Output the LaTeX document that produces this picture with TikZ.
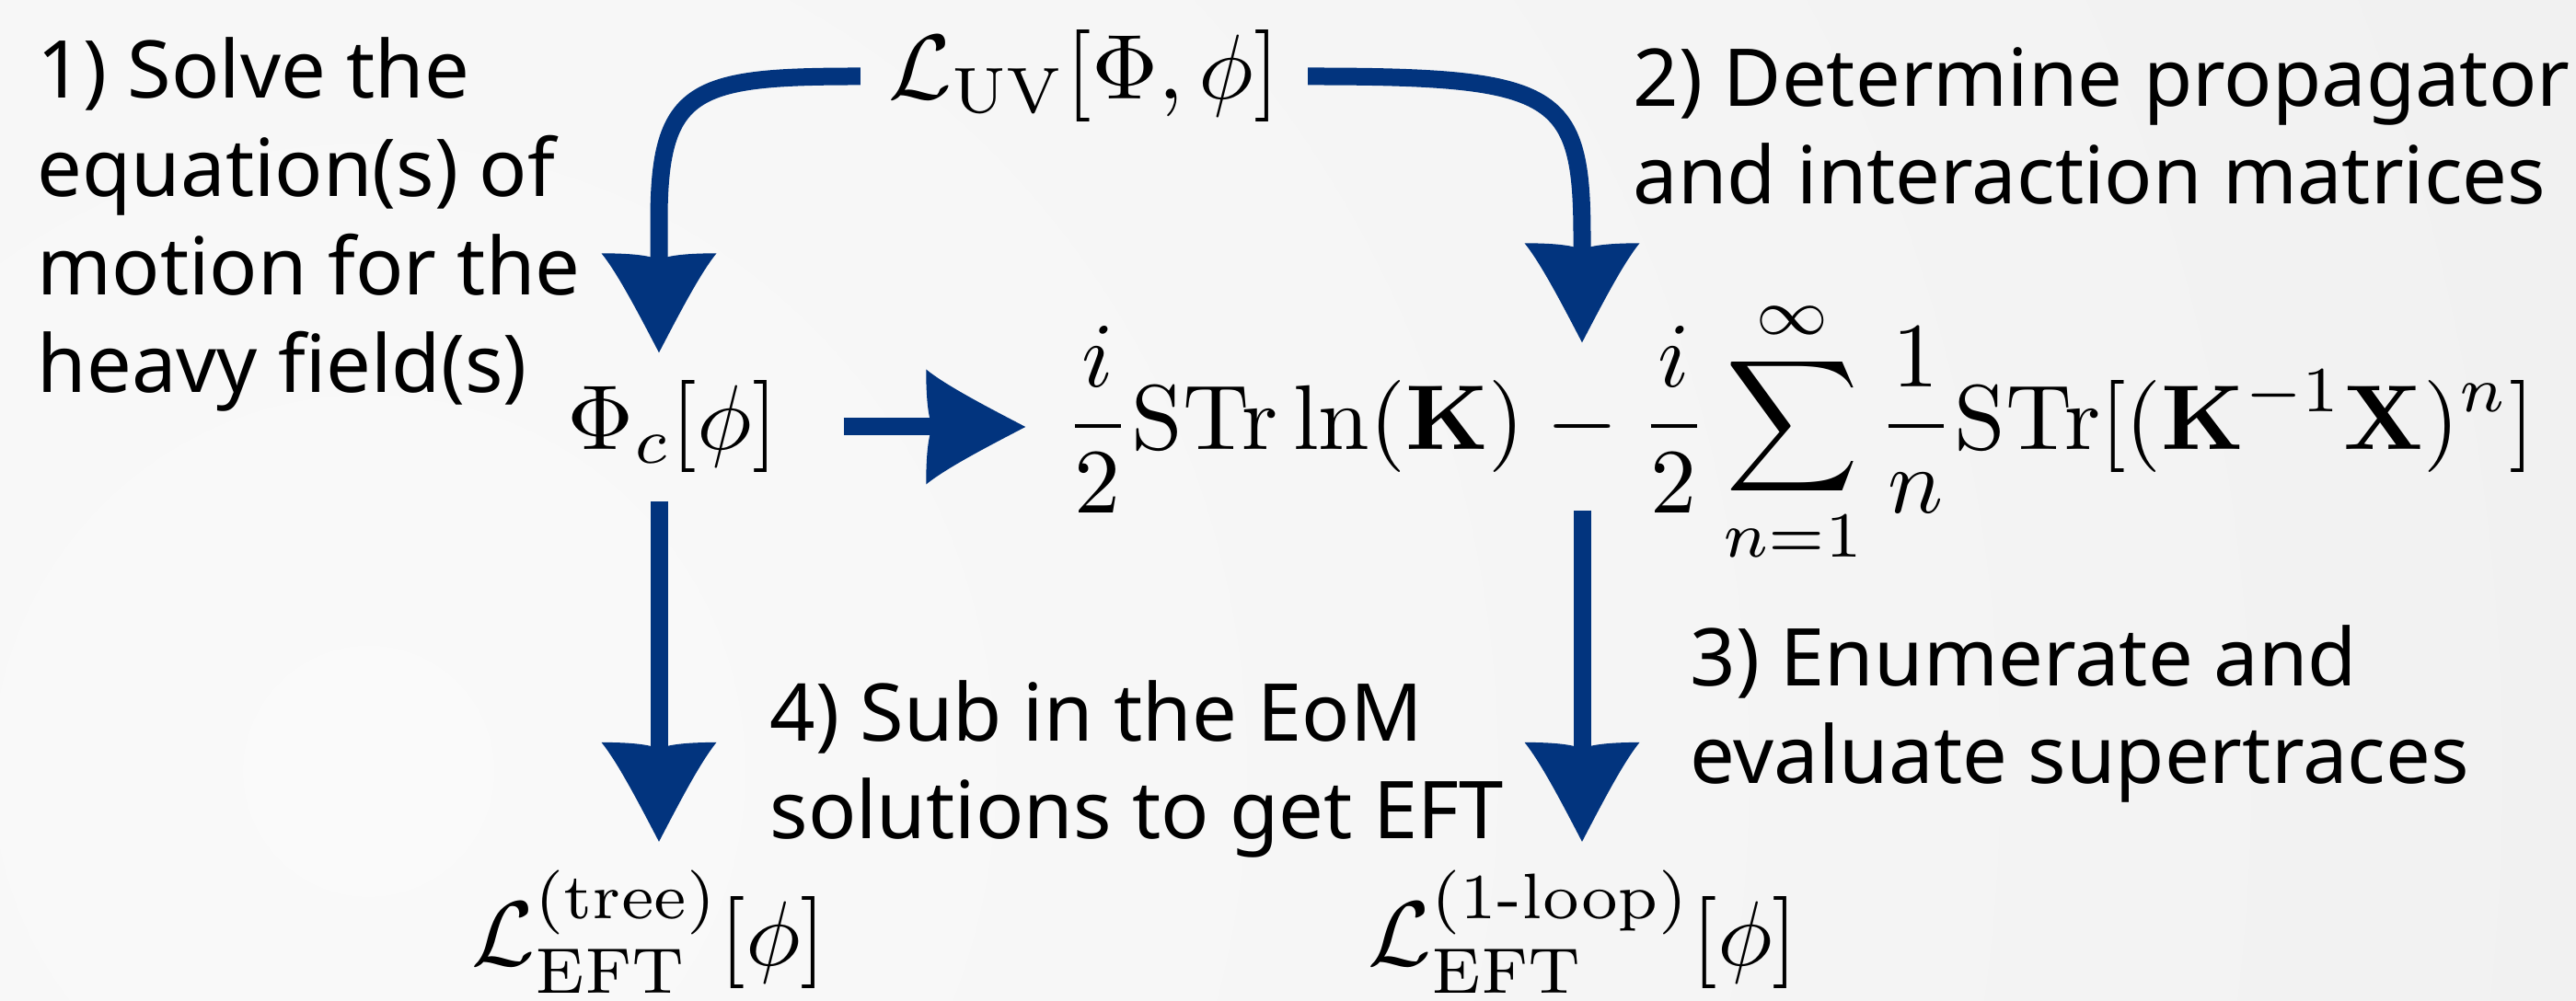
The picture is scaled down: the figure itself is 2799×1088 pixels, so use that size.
\documentclass[tikz,border=0pt]{standalone}
\usepackage{amsmath}
\usepackage{amssymb}
\usepackage{graphicx}
\usepackage[no-math]{fontspec}
\usepackage{tikz}
\usepackage{xcolor}
\usetikzlibrary{arrows.meta}

\newfontfamily\stepfont{Noto Sans}
\definecolor{eftblue}{RGB}{2,52,126}
\definecolor{bgin}{RGB}{250,250,250}
\definecolor{bgout}{RGB}{228,228,228}

% math set at 10pt and blown up
\newcommand{\bigmath}[1]{\scalebox{3}{$\displaystyle #1$}}

% swept arrow head
\pgfdeclarearrow{
  name = Swoop,
  parameters = {\the\pgfarrowlength,\the\pgfarrowwidth},
  setup code = {
    \pgfarrowssettipend{0pt}
    \pgfarrowssetlineend{-0.85\pgfarrowlength}
    \pgfarrowssetbackend{-\pgfarrowlength}
    \pgfarrowssavethe\pgfarrowlength
    \pgfarrowssavethe\pgfarrowwidth
  },
  drawing code = {
    \pgfpathmoveto{\pgfpointorigin}
    \pgfpathcurveto{\pgfpoint{-0.4\pgfarrowlength}{0.18\pgfarrowwidth}}{\pgfpoint{-0.8\pgfarrowlength}{0.36\pgfarrowwidth}}{\pgfpoint{-\pgfarrowlength}{0.5\pgfarrowwidth}}
    \pgfpathcurveto{\pgfpoint{-\pgfarrowlength}{0.2\pgfarrowwidth}}{\pgfpoint{-0.97\pgfarrowlength}{0.05\pgfarrowwidth}}{\pgfpoint{-0.93\pgfarrowlength}{0pt}}
    \pgfpathcurveto{\pgfpoint{-0.97\pgfarrowlength}{-0.05\pgfarrowwidth}}{\pgfpoint{-\pgfarrowlength}{-0.2\pgfarrowwidth}}{\pgfpoint{-\pgfarrowlength}{-0.5\pgfarrowwidth}}
    \pgfpathcurveto{\pgfpoint{-0.8\pgfarrowlength}{-0.36\pgfarrowwidth}}{\pgfpoint{-0.4\pgfarrowlength}{-0.18\pgfarrowwidth}}{\pgfpointorigin}
    \pgfpathclose
    \pgfusepathqfill
  },
  defaults = {length=32pt, width=37pt}
}

\begin{document}
\begin{tikzpicture}[x=0.3pt, y=0.3pt,
    flow/.style={color=eftblue, line width=5.7pt, -{Swoop[length=32.4pt,width=37.5pt]}},
    formula/.style={inner sep=9pt, font=\fontsize{10}{12}\selectfont},
    chunk/.style={inner sep=0pt, font=\fontsize{10}{12}\selectfont},
    steptext/.style={inner sep=0pt, align=left, font=\stepfont\fontsize{26}{32}\selectfont}]
	% Background
	\useasboundingbox (0,0) rectangle (2799,1088);
	\begin{scope}
		\clip (0,0) rectangle (2799,1088);
		\shade[inner color=bgin, outer color=bgout] (400,250) circle (6000);
	\end{scope}
	
	% UV theory and classical solution
	\node[formula, anchor=base] (uv) at (1178,980) {\bigmath{\mathcal{L}_{\mathrm{UV}}[\Phi,\phi]}};
	\node[formula, anchor=base] (phic) at (731,599) {\bigmath{\Phi_c[\phi]}};
	
	% Supertraces
	\node[chunk, minimum height=54.3pt] (minus) at (1719,624.5) {\bigmath{-}};
	\node[chunk, anchor=base east] (logterm) at ([xshift=-6.7pt]minus.base west) {\bigmath{\frac{i}{2}\mathrm{STr}\ln(\mathbf{K})}};
	\node[chunk, anchor=base west] (sumterm) at ([xshift=6.7pt]minus.base east) {\bigmath{\frac{i}{2}\sum_{n=1}^{\infty}\frac{1}{n}\mathrm{STr}[(\mathbf{K}^{-1}\mathbf{X})^n]}};
	
	% EFT results
	\node[formula, anchor=base] (tree) at (705,38) {\bigmath{\mathcal{L}_{\mathrm{EFT}}^{(\mathrm{tree})}[\phi]}};
	\node[formula, anchor=base] (oneloop) at (1720,38) {\bigmath{\mathcal{L}_{\mathrm{EFT}}^{(\text{1-loop})}[\phi]}};
	
	% Steps
	\node[steptext, anchor=base west] (solve) at (40,661) {1) Solve the\\equation(s) of\\motion for the\\heavy field(s)};
	\node[steptext, anchor=base west] (propagate) at (1774,866) {2) Determine propagator\\and interaction matrices};
	\node[steptext, anchor=base west] (enumerate) at (1836,236) {3) Enumerate and\\evaluate supertraces};
	\node[steptext, anchor=base west] (substitute) at (836,176) {4) Sub in the EoM\\solutions to get EFT};
	
	% Arrows
	\draw[flow] (uv.west) .. controls +(-180,0) and +(0,145) .. ([xshift=-4.5pt,yshift=43.2pt]phic.north) -- ([xshift=-4.5pt]phic.north);
	\draw[flow] (uv.east) .. controls +(273,0) and +(0,160) .. ([yshift=33.9pt]minus.north) -- (minus.north);
	\draw[flow] ([xshift=12.3pt]phic.east) -- ([xshift=-12.3pt]phic.east -| logterm.west);
	\draw[flow] ([xshift=-4.5pt]phic.south) -- ([xshift=-4.5pt]phic.south |- tree.north);
	\draw[flow] (minus.south) -- (minus.south |- oneloop.north);
\end{tikzpicture}
\end{document}
